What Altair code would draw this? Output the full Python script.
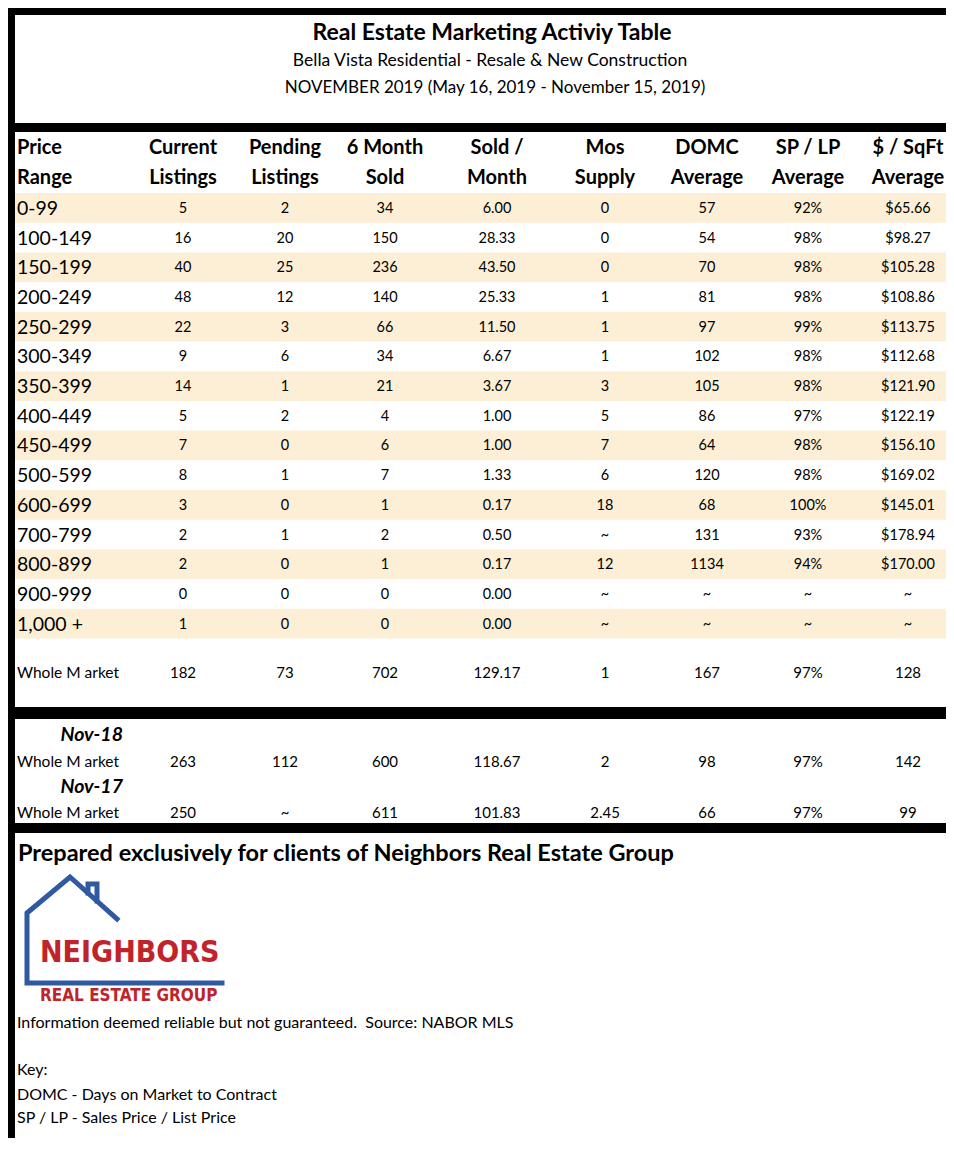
import altair as alt
import pandas as pd

# ---------------- data ----------------
title_main = "Real Estate Marketing Activiy Table"
title_sub = "Bella Vista Residential - Resale & New Construction"
title_period = "NOVEMBER 2019 (May 16, 2019 - November 15, 2019)"

header_top = ["Price", "Current", "Pending", "6 Month", "Sold /", "Mos", "DOMC", "SP / LP", "$ / SqFt"]
header_bottom = ["Range", "Listings", "Listings", "Sold", "Month", "Supply", "Average", "Average", "Average"]

price_ranges = ["0-99", "100-149", "150-199", "200-249", "250-299", "300-349", "350-399",
                "400-449", "450-499", "500-599", "600-699", "700-799", "800-899", "900-999", "1,000 +"]
current_listings = ["5", "16", "40", "48", "22", "9", "14", "5", "7", "8", "3", "2", "2", "0", "1"]
pending_listings = ["2", "20", "25", "12", "3", "6", "1", "2", "0", "1", "0", "1", "0", "0", "0"]
six_month_sold = ["34", "150", "236", "140", "66", "34", "21", "4", "6", "7", "1", "2", "1", "0", "0"]
sold_per_month = ["6.00", "28.33", "43.50", "25.33", "11.50", "6.67", "3.67", "1.00", "1.00", "1.33",
                  "0.17", "0.50", "0.17", "0.00", "0.00"]
mos_supply = ["0", "0", "0", "1", "1", "1", "3", "5", "7", "6", "18", "~", "12", "~", "~"]
domc_average = ["57", "54", "70", "81", "97", "102", "105", "86", "64", "120", "68", "131", "1134", "~", "~"]
sp_lp_average = ["92%", "98%", "98%", "98%", "99%", "98%", "98%", "97%", "98%", "98%", "100%", "93%",
                 "94%", "~", "~"]
sqft_average = ["$65.66", "$98.27", "$105.28", "$108.86", "$113.75", "$112.68", "$121.90", "$122.19",
                "$156.10", "$169.02", "$145.01", "$178.94", "$170.00", "~", "~"]

whole_market_label = "Whole M arket"
whole_market_2019 = ["182", "73", "702", "129.17", "1", "167", "97%", "128"]
compare_years = ["Nov-18", "Nov-17"]
whole_market_2018 = ["263", "112", "600", "118.67", "2", "98", "97%", "142"]
whole_market_2017 = ["250", "~", "611", "101.83", "2.45", "66", "97%", "99"]

footer_prepared = "Prepared exclusively for clients of Neighbors Real Estate Group"
logo_name = "NEIGHBORS"
logo_tag = "REAL ESTATE GROUP"
footer_info = "Information deemed reliable but not guaranteed.\u00a0 Source: NABOR MLS"
key_lines = ["Key:", "DOMC - Days on Market to Contract", "SP / LP - Sales Price / List Price"]

# ---------------- layout ----------------
W, H = 938, 1130
X0, Y0 = 8, 8
FONT = "Lato, Open Sans, sans-serif"
NARROW = "Liberation Sans Narrow, DejaVu Sans Condensed, Liberation Sans, sans-serif"
BEIGE = "#FCEFD6"
BLUE = "#2F5AA2"
RED = "#C1232B"

col_x = [17, 183, 285, 385, 497, 605, 707, 808, 908]
row_top0, row_h = 193, 29.7

xs = alt.Scale(domain=[X0, X0 + W], nice=False, zero=False)
ys = alt.Scale(domain=[Y0, Y0 + H], nice=False, zero=False, reverse=True)
X = lambda f="x": alt.X(f"{f}:Q", scale=xs, axis=None)
Y = lambda f="y": alt.Y(f"{f}:Q", scale=ys, axis=None)

# rectangles: borders and zebra bands
rects = []
for band in [(5, 15), (123, 132), (707, 719), (823, 833)]:
    rects.append(dict(x=X0, x2=954, y=band[0], y2=band[1], c="#000000"))
rects.append(dict(x=5, x2=15, y=X0, y2=1156, c="#000000"))
for i in range(len(price_ranges)):
    if i % 2 == 0:
        top = row_top0 + i * row_h
        rects.append(dict(x=15, x2=954, y=top, y2=top + row_h, c=BEIGE))
rect_df = pd.DataFrame(rects)
rect_df["o"] = (rect_df["c"] == "#000000").astype(int)
rect_df = rect_df.sort_values("o")
rect_layer = alt.Chart(rect_df).mark_rect().encode(
    x=X(), x2="x2:Q", y=Y(), y2="y2:Q", color=alt.Color("c:N", scale=None)
)


def text_layer(rows, size, weight="normal", align="center", font=FONT, color="#000000", style="normal"):
    df = pd.DataFrame(rows, columns=["x", "y", "t"])
    return alt.Chart(df).mark_text(
        align=align, baseline="middle", font=font, fontSize=size, fontWeight=weight,
        fontStyle=style, color=color
    ).encode(x=X(), y=Y(), text="t:N")


layers = [rect_layer]

# titles
layers.append(text_layer([(492, 33, title_main)], 23, "bold"))
layers.append(text_layer([(490, 61, title_sub)], 17.5))
layers.append(text_layer([(495, 88, title_period)], 17))

# headers
hdr_left = [(col_x[0], 148, header_top[0]), (col_x[0], 178, header_bottom[0])]
hdr_center = []
for j in range(1, 9):
    hdr_center.append((col_x[j], 148, header_top[j]))
    hdr_center.append((col_x[j], 178, header_bottom[j]))
layers.append(text_layer(hdr_left, 20, "bold", "left"))
layers.append(text_layer(hdr_center, 20, "bold"))

# table body
columns = [current_listings, pending_listings, six_month_sold, sold_per_month, mos_supply,
           domc_average, sp_lp_average, sqft_average]
body_left = []
body_center = []
for i, pr in enumerate(price_ranges):
    yc = row_top0 + i * row_h + row_h / 2 + 1
    body_left.append((col_x[0], yc, pr))
    for j, col in enumerate(columns):
        body_center.append((col_x[j + 1], yc, col[i]))
layers.append(text_layer(body_left, 19.5, "normal", "left"))
layers.append(text_layer(body_center, 14.5))

# whole market rows
wm_rows = [(673, whole_market_2019), (762, whole_market_2018), (813, whole_market_2017)]
wm_left = []
wm_center = []
for yc, vals in wm_rows:
    wm_left.append((col_x[0], yc, whole_market_label))
    for j, v in enumerate(vals):
        wm_center.append((col_x[j + 1], yc, v))
layers.append(text_layer(wm_left, 15.5, "normal", "left"))
layers.append(text_layer(wm_center, 15))
layers.append(text_layer([(123, 735, compare_years[0]), (123, 787, compare_years[1])],
                         19.5, "bold", "right", style="italic"))

# footer
layers.append(text_layer([(18, 854, footer_prepared)], 23.5, "bold", "left"))
layers.append(text_layer([(17, 1023, footer_info)], 16, "normal", "left"))
layers.append(text_layer([(17, 1070, key_lines[0]), (17, 1095, key_lines[1]), (17, 1118, key_lines[2])],
                         16, "normal", "left"))

# logo house outline
house = []
for part, pts in enumerate([
    [(222, 983), (27, 983), (27, 913), (70, 877), (117, 919)],
    [(88, 893), (88, 884), (97, 884), (97, 901)],
]):
    for k, (px, py) in enumerate(pts):
        house.append(dict(x=px, y=py, part=part, k=k))
house_layer = alt.Chart(pd.DataFrame(house)).mark_line(
    color=BLUE, strokeWidth=5, strokeJoin="miter", strokeCap="square"
).encode(x=X(), y=Y(), detail="part:N", order="k:Q")
layers.append(house_layer)
layers.append(text_layer([(40, 953, logo_name)], 30, "bold", "left", font=NARROW, color=RED))
layers.append(text_layer([(40, 996, logo_tag)], 17, "bold", "left", font=NARROW, color=RED))

chart = alt.layer(*layers).properties(
    width=W, height=H, autosize=alt.AutoSizeParams(type="none"), padding=0
).configure_view(stroke=None)

chart.save("out.html", embed_options={"renderer": "svg", "actions": False})
